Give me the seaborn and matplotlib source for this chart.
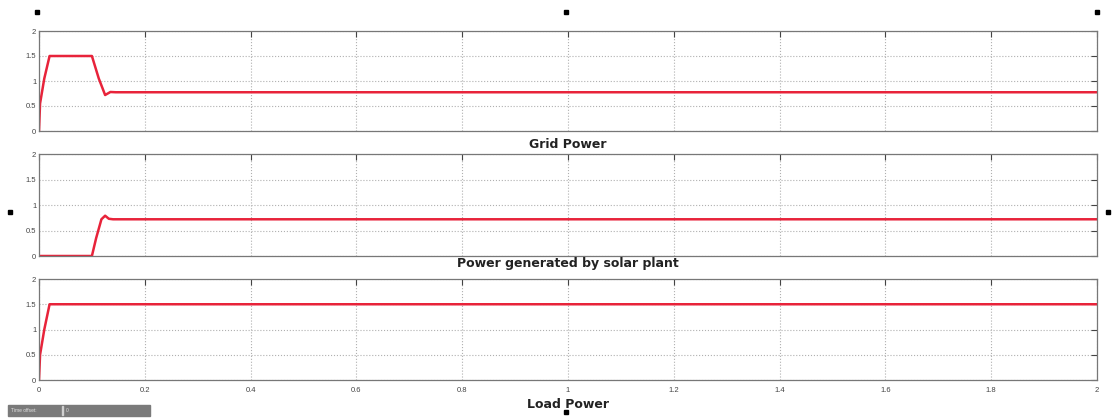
import pandas as pd
import matplotlib
matplotlib.use("Agg")
import matplotlib.pyplot as plt
import seaborn as sns
from matplotlib.patches import Rectangle

# Data
t_grid = [0, 0.002, 0.01, 0.02, 0.1, 0.113, 0.125, 0.135, 0.145, 2.0]
p_grid = [0, 0.55, 1.05, 1.5, 1.5, 1.05, 0.72, 0.78, 0.775, 0.775]

t_solar = [0, 0.1, 0.108, 0.118, 0.125, 0.132, 0.14, 2.0]
p_solar = [0, 0, 0.35, 0.72, 0.79, 0.73, 0.72, 0.72]

t_load = [0, 0.002, 0.01, 0.02, 2.0]
p_load = [0, 0.5, 1.0, 1.5, 1.5]

titles = ["Grid Power", "Power generated by solar plant", "Load Power"]
x_ticks = [0, 0.2, 0.4, 0.6, 0.8, 1, 1.2, 1.4, 1.6, 1.8, 2]
x_tick_labels = ["0", "0.2", "0.4", "0.6", "0.8", "1", "1.2", "1.4", "1.6", "1.8", "2"]
y_ticks = [0, 0.5, 1, 1.5, 2]
y_tick_labels = ["0", "0.5", "1", "1.5", "2"]

sns.set_style("white")
plt.rcParams["font.family"] = ["Liberation Sans", "DejaVu Sans"]

W, H = 1113, 419
fig = plt.figure(figsize=(W / 100, H / 100), dpi=100)

# axes boxes in pixels: (top, bottom), and title centre heights
boxes = [(31, 131), (154, 256), (279, 380)]
title_y = [145, 264, 404]
left, right = 39, 1097
series = [(t_grid, p_grid), (t_solar, p_solar), (t_load, p_load)]

for i, ((top, bot), (tt, pp)) in enumerate(zip(boxes, series)):
    ax = fig.add_axes([left / W, 1 - bot / H, (right - left) / W, (bot - top) / H])
    df = pd.DataFrame({"t": tt, "p": pp})
    sns.lineplot(data=df, x="t", y="p", ax=ax, color="#e8233a", linewidth=1.8)
    ax.set_xlim(0, 2)
    ax.set_ylim(0, 2)
    ax.set_xticks(x_ticks)
    ax.set_yticks(y_ticks)
    ax.set_yticklabels(y_tick_labels)
    if i == 2:
        ax.set_xticklabels(x_tick_labels)
    else:
        ax.set_xticklabels([])
    ax.tick_params(direction="in", length=4, width=0.8, labelsize=5.5,
                   top=True, right=True, colors="#444444", pad=2)
    ax.tick_params(axis="x", pad=5)
    ax.grid(True, linestyle=":", color="#b0b0b0", linewidth=0.8)
    for s in ax.spines.values():
        s.set_color("#777777")
        s.set_linewidth(0.9)
    ax.set_xlabel("")
    ax.set_ylabel("")
    fig.text(568 / W, 1 - title_y[i] / H, titles[i], ha="center", va="center",
             fontsize=9, fontweight="bold", color="#222222",
             family=["DejaVu Sans"])

# figure selection handles and the time offset bar
for (x, y) in [(37, 12), (566, 12), (1097, 12), (10, 212), (1108, 212), (566, 412)]:
    fig.patches.append(Rectangle(((x - 2) / W, 1 - (y + 2) / H), 4 / W, 4 / H,
                                 transform=fig.transFigure, color="black"))
fig.patches.append(Rectangle((8 / W, 1 - 416 / H), 142 / W, 11 / H,
                             transform=fig.transFigure, color="#7a7a7a"))
fig.patches.append(Rectangle((62 / W, 1 - 415 / H), 1 / W, 9 / H,
                             transform=fig.transFigure, color="#d0d0d0"))
fig.text(11 / W, 1 - 410.5 / H, "Time offset:", fontsize=3.5, color="#e0e0e0", va="center")
fig.text(66 / W, 1 - 410.5 / H, "0", fontsize=3.5, color="#e0e0e0", va="center")

fig.savefig("out.png", dpi=100)
